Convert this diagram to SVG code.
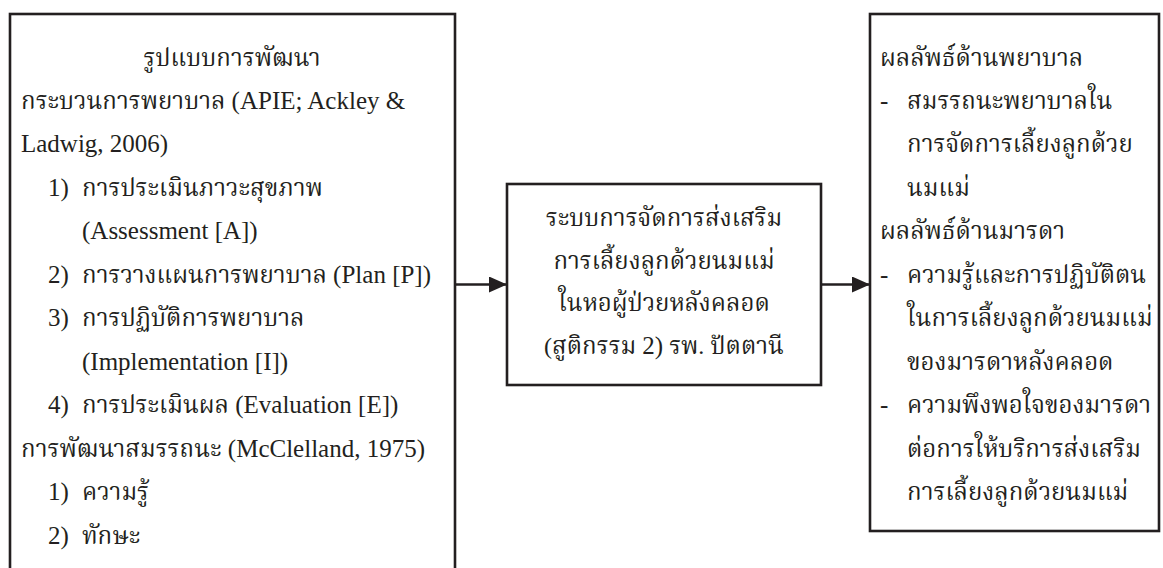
<svg xmlns="http://www.w3.org/2000/svg" width="1163" height="568" viewBox="0 0 1163 568">
<style>
.box{fill:#fff;stroke:#231f20;stroke-width:2.6}
.t{font-family:"Liberation Serif","Noto Serif Thai","Noto Sans Thai",serif;font-size:24px;fill:#231f20}
.e{font-size:25px}
.c{text-anchor:middle}
.ln{stroke:#231f20;stroke-width:2.6;fill:none}
</style>
<defs>
<marker id="ah" markerWidth="18" markerHeight="16" refX="18" refY="8" orient="auto" markerUnits="userSpaceOnUse">
<path d="M0,0 L18,8 L0,16 Z" fill="#231f20"/>
</marker>
</defs>
<rect width="1163" height="568" fill="#fff"/>
<g id="left">
<rect class="box" x="10" y="14" width="445" height="600"/>
<text class="t c" x="232" y="66">รูปแบบการพัฒนา</text>
<text class="t" x="21" y="109">กระบวนการพยาบาล<tspan class="e"> (APIE; Ackley &amp;</tspan></text>
<text class="t e" x="21" y="152">Ladwig, 2006)</text>
<text class="t e" x="48" y="195.5">1)</text>
<text class="t" x="82" y="195.5">การประเมินภาวะสุขภาพ</text>
<text class="t e" x="82" y="239">(Assessment [A])</text>
<text class="t e" x="48" y="282.5">2)</text>
<text class="t" x="82" y="282.5">การวางแผนการพยาบาล<tspan class="e"> (Plan [P])</tspan></text>
<text class="t e" x="48" y="326">3)</text>
<text class="t" x="82" y="326">การปฏิบัติการพยาบาล</text>
<text class="t e" x="82" y="369.5">(Implementation [I])</text>
<text class="t e" x="48" y="413">4)</text>
<text class="t" x="82" y="413">การประเมินผล<tspan class="e"> (Evaluation [E])</tspan></text>
<text class="t" x="21" y="456.5">การพัฒนาสมรรถนะ<tspan class="e"> (McClelland, 1975)</tspan></text>
<text class="t e" x="48" y="500">1)</text>
<text class="t" x="82" y="500">ความรู้</text>
<text class="t e" x="48" y="543.5">2)</text>
<text class="t" x="82" y="543.5">ทักษะ</text>
</g>
<g id="middle">
<rect class="box" x="507" y="184" width="314" height="201"/>
<text class="t c" x="664" y="226">ระบบการจัดการส่งเสริม</text>
<text class="t c" x="664" y="268.5">การเลี้ยงลูกด้วยนมแม่</text>
<text class="t c" x="664" y="311">ในหอผู้ป่วยหลังคลอด</text>
<text class="t c" x="664" y="353.5">(สูติกรรม <tspan class="e">2)</tspan> รพ. ปัตตานี</text>
</g>
<g id="right">
<rect class="box" x="870" y="14" width="289" height="517"/>
<text class="t" x="880" y="66">ผลลัพธ์ด้านพยาบาล</text>
<text class="t e" x="880" y="109">-</text>
<text class="t" x="907" y="109">สมรรถนะพยาบาลใน</text>
<text class="t" x="907" y="152">การจัดการเลี้ยงลูกด้วย</text>
<text class="t" x="907" y="195.5">นมแม่</text>
<text class="t" x="880" y="239">ผลลัพธ์ด้านมารดา</text>
<text class="t e" x="880" y="282.5">-</text>
<text class="t" x="907" y="282.5">ความรู้และการปฏิบัติตน</text>
<text class="t" x="907" y="326">ในการเลี้ยงลูกด้วยนมแม่</text>
<text class="t" x="907" y="369.5">ของมารดาหลังคลอด</text>
<text class="t e" x="880" y="413">-</text>
<text class="t" x="907" y="413">ความพึงพอใจของมารดา</text>
<text class="t" x="907" y="456.5">ต่อการให้บริการส่งเสริม</text>
<text class="t" x="907" y="500">การเลี้ยงลูกด้วยนมแม่</text>
</g>
<g id="connectors">
<line class="ln" x1="455" y1="284.5" x2="507" y2="284.5" marker-end="url(#ah)"/>
<line class="ln" x1="821" y1="284.5" x2="870" y2="284.5" marker-end="url(#ah)"/>
</g>
</svg>
